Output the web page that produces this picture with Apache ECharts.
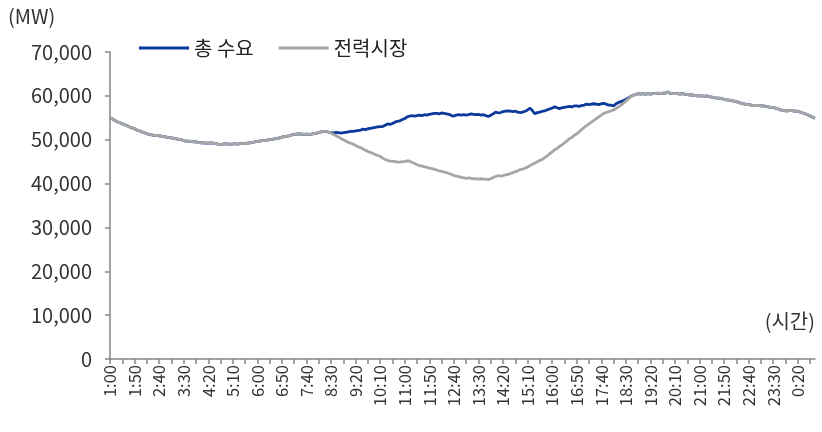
<!DOCTYPE html>
<html>
<head>
<meta charset="utf-8">
<script src="https://cdn.jsdelivr.net/npm/echarts@6/dist/echarts.min.js"></script>
<style>
  html, body { margin: 0; padding: 0; background: #fff; }
  #chart { width: 822px; height: 432px; }
</style>
</head>
<body>
<div id="chart"></div>
<script>
// 5분 간격, 1:00 ~ 다음날 0:55
var startMinute = 60, stepMinute = 5, pointCount = 288;
var times = [];
for (var i = 0; i < pointCount; i++) {
  var m = (startMinute + i * stepMinute) % 1440;
  times.push(Math.floor(m / 60) + ':' + ('0' + (m % 60)).slice(-2));
}

var seriesNames = ['총 수요', '전력시장'];
var yTicks = { min: 0, max: 70000, step: 10000 };

// 총 수요 (MW)
var demand = [
  55000, 54700, 54400, 54100, 53900, 53600, 53400, 53200, 52900, 52700, 52500, 52200,
  52000, 51800, 51600, 51400, 51200, 51100, 51000, 51000, 50900, 50800, 50700, 50600,
  50500, 50400, 50300, 50200, 50100, 50000, 49800, 49700, 49700, 49600, 49500, 49500,
  49400, 49300, 49300, 49200, 49200, 49300, 49200, 49100, 49000, 48900, 49000, 49100,
  49000, 49000, 49000, 49100, 49000, 49100, 49100, 49100, 49200, 49300, 49400, 49500,
  49600, 49700, 49800, 49800, 49900, 50000, 50100, 50200, 50300, 50400, 50600, 50700,
  50800, 50900, 51100, 51200, 51300, 51300, 51300, 51200, 51300, 51200, 51300, 51400,
  51500, 51700, 51800, 51900, 51900, 51700, 51600, 51500, 51700, 51600, 51500, 51600,
  51700, 51800, 51900, 51900, 52000, 52100, 52200, 52400, 52300, 52500, 52600, 52700,
  52800, 52900, 53000, 53000, 53300, 53600, 53500, 53700, 54000, 54200, 54300, 54600,
  54800, 55200, 55400, 55500, 55400, 55500, 55600, 55500, 55700, 55600, 55800, 55900,
  56000, 56000, 55900, 56100, 56000, 55900, 55800, 55500, 55400, 55600, 55700, 55600,
  55700, 55600, 55700, 55900, 55800, 55700, 55800, 55600, 55700, 55500, 55300, 55600,
  55900, 56300, 56100, 56200, 56400, 56500, 56600, 56500, 56400, 56500, 56300, 56200,
  56300, 56500, 56800, 57200, 56600, 55900, 56200, 56300, 56500, 56600, 56800, 57000,
  57200, 57500, 57300, 57100, 57300, 57400, 57500, 57600, 57500, 57700, 57700, 57600,
  57800, 57900, 58100, 58000, 58100, 58200, 58100, 58000, 58200, 58300, 58100, 57900,
  57900, 57700, 58200, 58500, 58700, 58900, 59200, 59500, 59900, 60100, 60300, 60500,
  60400, 60500, 60400, 60500, 60400, 60500, 60500, 60600, 60500, 60600, 60600, 60900,
  60600, 60500, 60500, 60500, 60400, 60500, 60400, 60300, 60200, 60200, 60100, 60000,
  60000, 60000, 59900, 60000, 59800, 59700, 59600, 59500, 59500, 59400, 59200, 59100,
  59000, 58900, 58800, 58700, 58500, 58300, 58200, 58000, 58000, 57900, 57800, 57800,
  57800, 57700, 57700, 57600, 57500, 57400, 57300, 57200, 57000, 56800, 56700, 56600,
  56600, 56700, 56600, 56500, 56500, 56300, 56100, 55900, 55700, 55400, 55100, 54900
];

// 전력시장 (MW)
var market = [
  55000, 54700, 54400, 54100, 53900, 53600, 53400, 53200, 52900, 52700, 52500, 52200,
  52000, 51800, 51600, 51400, 51200, 51100, 51000, 51000, 50900, 50800, 50700, 50600,
  50500, 50400, 50300, 50200, 50100, 50000, 49800, 49700, 49700, 49600, 49500, 49500,
  49400, 49300, 49300, 49200, 49200, 49300, 49200, 49100, 49000, 48900, 49000, 49100,
  49000, 49000, 49000, 49100, 49000, 49100, 49100, 49100, 49200, 49300, 49400, 49500,
  49600, 49700, 49800, 49800, 49900, 50000, 50100, 50200, 50300, 50400, 50600, 50700,
  50800, 50900, 51100, 51200, 51300, 51300, 51300, 51200, 51300, 51200, 51300, 51400,
  51500, 51700, 51800, 51900, 51900, 51700, 51500, 51200, 50900, 50600, 50300, 50000,
  49700, 49400, 49200, 49000, 48700, 48400, 48200, 47900, 47600, 47300, 47100, 46900,
  46600, 46400, 46200, 45800, 45500, 45300, 45100, 45100, 45000, 44900, 44900, 45000,
  45000, 45200, 45100, 44800, 44600, 44300, 44100, 44000, 43800, 43700, 43500, 43400,
  43300, 43100, 42900, 42800, 42600, 42500, 42300, 42100, 41800, 41700, 41600, 41400,
  41300, 41200, 41300, 41200, 41100, 41100, 41000, 41100, 41000, 41000, 40900, 41100,
  41400, 41600, 41800, 41700, 41800, 42000, 42100, 42300, 42500, 42700, 42900, 43200,
  43300, 43500, 43800, 44100, 44400, 44700, 45000, 45300, 45500, 45900, 46300, 46800,
  47200, 47700, 48000, 48500, 48800, 49300, 49700, 50200, 50500, 51000, 51300, 51800,
  52300, 52800, 53200, 53600, 54000, 54400, 54800, 55200, 55600, 56000, 56200, 56400,
  56600, 56800, 57100, 57500, 57900, 58300, 58800, 59300, 59800, 60100, 60300, 60500,
  60400, 60500, 60400, 60500, 60400, 60500, 60500, 60600, 60500, 60600, 60600, 60900,
  60600, 60500, 60500, 60500, 60400, 60500, 60400, 60300, 60200, 60200, 60100, 60000,
  60000, 60000, 59900, 60000, 59800, 59700, 59600, 59500, 59500, 59400, 59200, 59100,
  59000, 58900, 58800, 58700, 58500, 58300, 58200, 58000, 58000, 57900, 57800, 57800,
  57800, 57700, 57700, 57600, 57500, 57400, 57300, 57200, 57000, 56800, 56700, 56600,
  56600, 56700, 56600, 56500, 56500, 56300, 56100, 55900, 55700, 55400, 55100, 54900
];

var font = '"Noto Sans CJK KR", "Noto Sans", sans-serif';
var axisColor = '#868686';
var textColor = '#333';

var myChart = echarts.init(document.getElementById('chart'));
var option = {
  animation: false,
  color: ['#0b3a9b', '#a6a6a6'],
  textStyle: { fontFamily: font },
  grid: { left: 110, right: 7, top: 52, bottom: 73 },
  legend: {
    data: seriesNames,
    left: 134,
    top: 33,
    icon: 'rect',
    itemWidth: 50,
    itemHeight: 3,
    itemGap: 25,
    selectedMode: false,
    textStyle: { fontFamily: font, fontSize: 20, color: '#222' }
  },
  graphic: [
    { type: 'text', left: 8, top: 6, style: { text: '(MW)', font: '20px ' + font, fill: textColor } },
    { type: 'text', right: 7, top: 311, style: { text: '(시간)', font: '20px ' + font, fill: textColor } }
  ],
  xAxis: {
    type: 'category',
    data: times,
    boundaryGap: false,
    axisLine: { lineStyle: { color: axisColor, width: 1.5 } },
    axisTick: { show: true, interval: 4, length: 5, lineStyle: { color: axisColor, width: 1.5 } },
    axisLabel: { interval: 9, rotate: 90, fontSize: 16.5, color: textColor, margin: 6, fontFamily: font },
    splitLine: { show: false }
  },
  yAxis: {
    type: 'value',
    min: yTicks.min,
    max: yTicks.max,
    interval: yTicks.step,
    axisLine: { show: true, lineStyle: { color: axisColor, width: 1.5 } },
    axisTick: { show: true, length: 5, lineStyle: { color: axisColor, width: 1.5 } },
    axisLabel: {
      fontSize: 20, color: textColor, margin: 18, fontFamily: font,
      formatter: function (v) { return v.toLocaleString('en-US'); }
    },
    splitLine: { show: false }
  },
  series: [
    { name: seriesNames[0], type: 'line', data: demand, symbol: 'none', lineStyle: { width: 2.8 } },
    { name: seriesNames[1], type: 'line', data: market, symbol: 'none', lineStyle: { width: 2.8 } }
  ]
};
myChart.setOption(option);
</script>
</body>
</html>
